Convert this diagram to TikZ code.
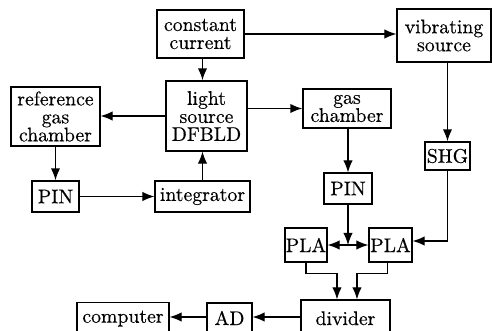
\documentclass[tikz,border=0pt]{standalone}
\usepackage{fontspec}
\setmainfont{lmroman10-regular.otf}[FakeBold=0.4]
\usetikzlibrary{arrows.meta}
\begin{document}
\begin{tikzpicture}[x=0.75pt,y=-0.75pt,
  box/.style={draw, line width=0.9pt, inner sep=0pt, align=center, font=\fontsize{14.8}{13.5}\selectfont},
  sz/.style 2 args={minimum width=#1*0.75pt, minimum height=#2*0.75pt},
  arr/.style={line width=0.85pt, -{Latex[length=9pt,width=7pt]}},
  thk/.style={line width=1.3pt}]
\useasboundingbox (0,0) rectangle (492,331);
% boxes
\node[box, sz={87}{48}] (cc) at (200.5,34) {constant\\current};
\node[box, sz={81}{70}] (ls) at (206.5,116) {light\\source\\DFBLD};
\node[box, sz={89}{59}] (ref) at (55.5,116.5) {reference\\gas\\chamber};
\node[box, sz={94}{53}] (vs) at (444,35.5) {vibrating\\source};
\node[box, sz={88}{39}] (gc) at (347,108.5) {gas\\chamber};
\node[box, sz={45}{28}] (shg) at (447.5,156) {SHG};
\node[box, sz={47}{31}] (pin1) at (55.5,196.5) {PIN};
\node[box, sz={95}{31}] (int) at (202.5,196.5) {integrator};
\node[box, sz={48}{31}] (pin2) at (348,188.5) {PIN};
\node[box, sz={42}{34}] (pla1) at (306,245) {PLA};
\node[box, sz={43}{34}] (pla2) at (390.5,245) {PLA};
% bottom row (cut off by the page edge)
\node[box, minimum width=92*0.75pt, text height=15pt, text depth=20pt, anchor=base] (comp) at (123,322.7) {computer};
\node[box, minimum width=45*0.75pt, text height=16.5pt, text depth=20pt, anchor=base] (ad) at (229.5,325) {AD};
\node[box, minimum width=89*0.75pt, text height=18.75pt, text depth=20pt, anchor=base] (div) at (345.5,325) {divider};
\coordinate (row) at (0,317);
\coordinate (j) at (pin2.south |- pla1.east);
% connectors
\draw[arr, thk] (cc.south -| int.north) -- (int.north |- ls.north);
\draw[arr] (cc.east) -- (cc.east -| vs.west);
\draw[arr] (ls.west) -- (ls.west -| ref.east);
\draw[arr, thk] (gc.west -| ls.east) -- (gc.west);
\draw[arr, thk] (ref.south) -- (pin1.north);
\draw[arr] (pin1.east) -- (int.west);
\draw[arr] (int.north) -- (int.north |- ls.south);
\draw[arr, thk] (shg.north |- vs.south) -- (shg.north);
\draw[arr] (pin2.north |- gc.south) -- (pin2.north);
\draw[arr] (shg.south) |- ([yshift=3pt]pla2.east);
\draw[arr] (pin2.south) -- (j);
\draw[arr] (j) -- (pla1.east);
\draw[arr] (j) -- (pla2.west);
\draw[arr] (pla1.south) -- ++(0,11) -| ([xshift=-6.4pt]div.north);
\draw[arr] ([xshift=-2pt]pla2.south) -- ++(0,11) -| ([xshift=8.6pt]div.north);
\draw[arr] (div.west |- row) -- (ad.east |- row);
\draw[arr] (ad.west |- row) -- (comp.east |- row);
\end{tikzpicture}
\end{document}
